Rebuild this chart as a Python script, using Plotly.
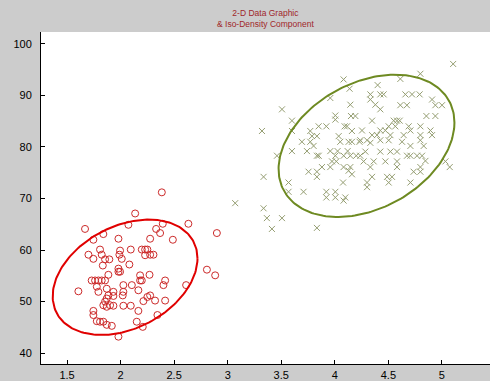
import numpy as np
import plotly.graph_objects as go

# ---- data: red group (circles) ----
red_x = [2.136, 1.668, 1.746, 1.839, 1.980, 2.073, 2.276, 2.332, 1.700, 1.746,
         1.808, 1.824, 1.855, 1.895, 1.834, 1.995, 1.989, 2.011, 2.095, 2.198,
         2.229, 2.250, 2.276, 2.229, 2.082, 1.980, 1.980, 1.995, 1.730, 1.762,
         1.793, 1.824, 1.855, 1.886, 2.182, 2.270, 1.606, 1.778, 1.793, 1.871,
         1.886, 1.933, 1.933, 2.026, 2.105, 2.026, 2.020, 2.166, 2.182, 2.276,
         2.250, 2.213, 1.746, 1.746, 1.839, 1.871, 1.902, 1.933, 2.026, 2.095,
         2.166, 1.778, 1.808, 1.839, 1.871, 1.918, 2.151, 2.207, 1.980, 2.385,
         2.633, 2.899, 2.394, 2.369, 2.488, 2.307, 2.416, 2.400, 2.612, 2.806,
         2.883, 2.322, 2.416, 2.344, 1.871, 1.855, 2.198]
red_y = [67.1, 64.1, 62.0, 63.1, 62.2, 64.9, 62.2, 64.1, 59.1, 58.3,
         60.1, 59.1, 58.2, 58.2, 57.0, 59.9, 59.1, 58.3, 60.1, 60.1,
         60.1, 60.1, 59.1, 59.0, 57.2, 56.4, 55.8, 55.8, 54.1, 54.1,
         54.1, 54.1, 54.1, 55.2, 55.1, 55.2, 52.0, 52.9, 51.9, 52.5,
         51.2, 51.9, 51.1, 53.2, 53.2, 51.9, 51.2, 52.2, 54.1, 51.2,
         50.9, 50.1, 48.2, 47.4, 49.3, 49.0, 49.3, 49.2, 49.2, 49.2,
         48.2, 46.2, 46.1, 46.1, 45.5, 45.3, 46.1, 45.1, 43.2, 71.2,
         65.1, 63.3, 65.1, 63.3, 62.0, 59.1, 54.1, 53.2, 53.2, 56.2,
         55.1, 50.2, 50.2, 47.4, 50.6, 50.0, 54.1]

# ---- data: green group (crosses) ----
green_x = [4.082, 4.138, 3.507, 3.958, 4.145, 3.600, 4.005, 4.005, 4.151, 4.192,
           3.320, 3.600, 3.771, 3.849, 3.921, 4.092, 4.114, 4.160, 4.254, 3.787,
           3.833, 4.036, 3.693, 3.771, 4.051, 4.129, 4.160, 4.231, 3.802, 3.600,
           3.740, 3.958, 4.026, 4.120, 3.460, 3.833, 3.850, 4.005, 4.083, 4.145,
           4.200, 4.238, 3.974, 4.014, 3.880, 3.958, 4.082, 4.145, 3.755, 3.833,
           4.129, 4.160, 3.833, 3.335, 3.568, 4.077, 3.568, 3.708, 3.921, 4.005,
           3.921, 4.005, 4.098, 4.082, 3.335, 3.366, 3.507, 3.413, 3.833, 3.070,
           5.105, 4.799, 4.612, 4.400, 4.332, 4.425, 4.456, 4.659, 4.721, 4.792,
           4.332, 4.379, 4.425, 4.612, 4.673, 4.908, 4.939, 5.001, 4.348, 4.550,
           4.581, 4.606, 4.855, 4.939, 4.503, 4.565, 4.690, 4.799, 4.348, 4.394,
           4.425, 4.472, 4.519, 4.643, 4.706, 4.799, 4.893, 4.908, 4.238, 4.301,
           4.332, 4.425, 4.503, 4.628, 4.706, 4.799, 4.830, 4.285, 4.425, 4.519,
           4.581, 4.674, 4.706, 4.768, 4.815, 4.846, 4.269, 4.363, 4.472, 4.581,
           4.332, 4.581, 4.799, 5.033, 5.073, 4.736, 4.799, 4.348, 4.488, 4.534,
           4.301, 4.503, 4.706, 4.301]
green_y = [93.1, 91.3, 87.3, 89.5, 88.2, 85.1, 86.1, 85.3, 86.0, 86.0,
           83.1, 83.1, 83.1, 84.0, 84.0, 84.0, 84.0, 83.1, 83.2, 82.1,
           82.1, 82.1, 81.0, 81.0, 81.0, 81.0, 81.0, 81.0, 80.2, 79.2,
           79.2, 79.2, 79.2, 79.2, 78.3, 78.3, 78.3, 78.3, 78.3, 78.3,
           78.3, 78.3, 77.2, 77.2, 76.1, 76.1, 76.1, 76.1, 75.2, 75.2,
           75.4, 74.7, 74.2, 74.2, 73.1, 73.1, 71.3, 71.3, 71.3, 71.3,
           70.2, 70.2, 70.2, 69.6, 68.1, 66.2, 66.2, 64.1, 64.3, 69.1,
           96.1, 94.2, 93.2, 92.0, 90.2, 90.2, 90.2, 90.2, 90.2, 90.2,
           89.2, 88.2, 87.3, 88.1, 88.1, 89.2, 88.1, 88.1, 85.1, 85.1,
           85.1, 85.1, 86.0, 86.0, 84.0, 84.0, 84.0, 84.0, 82.3, 82.3,
           83.2, 83.2, 82.3, 82.3, 83.2, 82.3, 83.2, 82.3, 81.3, 81.3,
           80.8, 81.3, 81.3, 81.0, 80.2, 81.3, 80.2, 79.1, 79.1, 79.1,
           79.1, 78.3, 78.3, 78.3, 78.3, 77.3, 77.2, 77.2, 77.2, 77.2,
           76.1, 76.1, 76.1, 77.2, 76.1, 75.2, 75.2, 74.2, 74.2, 74.2,
           73.1, 73.1, 73.1, 72.2]

# ---- iso-density ellipse parameters (centre, std devs, correlation) ----
red_center = [2.042, 54.72]
red_sd = [0.676, 11.19]
red_corr = 0.328
green_center = [4.296, 80.22]
green_sd = [0.821, 13.80]
green_corr = 0.327

x_ticks = [1.5, 2, 2.5, 3, 3.5, 4, 4.5, 5]
x_tick_labels = ["1.5", "2", "2.5", "3", "3.5", "4", "4.5", "5"]
y_ticks = [40, 50, 60, 70, 80, 90, 100]
title_lines = ["2-D Data Graphic", "& Iso-Density Component"]


def ellipse(center, sd, r, n=200):
    t = np.linspace(0, 2 * np.pi, n)
    sxx = sd[0] ** 2
    syy = sd[1] ** 2
    sxy = r * sd[0] * sd[1]
    l11 = np.sqrt(sxx)
    l21 = sxy / l11
    l22 = np.sqrt(syy - l21 ** 2)
    x = center[0] + l11 * np.cos(t)
    y = center[1] + l21 * np.cos(t) + l22 * np.sin(t)
    return x, y


fig = go.Figure()
fig.add_trace(go.Scatter(
    x=red_x, y=red_y, mode="markers",
    marker=dict(symbol="circle-open", size=7, color="#cc2a2a", line=dict(width=1)),
    showlegend=False, hoverinfo="x+y"))
fig.add_trace(go.Scatter(
    x=green_x, y=green_y, mode="markers",
    marker=dict(symbol="x-thin-open", size=6, color="#959e72", line=dict(width=1, color="#959e72")),
    showlegend=False, hoverinfo="x+y"))

ex, ey = ellipse(red_center, red_sd, red_corr)
fig.add_trace(go.Scatter(x=ex, y=ey, mode="lines", line=dict(color="#e00000", width=2),
                         showlegend=False, hoverinfo="skip"))
ex, ey = ellipse(green_center, green_sd, green_corr)
fig.add_trace(go.Scatter(x=ex, y=ey, mode="lines", line=dict(color="#6e8a22", width=2),
                         showlegend=False, hoverinfo="skip"))

axis_font = dict(family="Liberation Sans, Arial, sans-serif", size=11, color="#000000")

fig.update_layout(
    width=490, height=381,
    margin=dict(l=41, r=0, t=32, b=15),
    paper_bgcolor="#cccccc",
    plot_bgcolor="#ffffff",
    font=axis_font,
    xaxis=dict(range=[1.257, 5.449], tickvals=x_ticks, ticktext=x_tick_labels,
               showgrid=False, zeroline=False, showline=True, linecolor="#000000",
               linewidth=1, ticks="inside", ticklen=4, tickcolor="#000000",
               tickfont=axis_font, ticklabelstandoff=1, mirror=False, fixedrange=True),
    yaxis=dict(range=[37.9, 102.3], tickvals=y_ticks,
               showgrid=False, zeroline=False, showline=True, linecolor="#000000",
               linewidth=1, ticks="inside", ticklen=4, tickcolor="#000000",
               tickfont=axis_font, ticklabelstandoff=6, mirror=False, fixedrange=True),
    annotations=[dict(
        text="<br>".join(title_lines), xref="paper", yref="paper",
        x=0.5, y=1.0, yshift=1, xanchor="center", yanchor="bottom", showarrow=False,
        font=dict(family="Liberation Sans, Arial, sans-serif", size=8.5, color="#a0262a"))],
)

fig.write_html("out.html", config={"displayModeBar": False},
               post_script="document.body.style.margin='0';document.body.style.overflow='hidden';")
